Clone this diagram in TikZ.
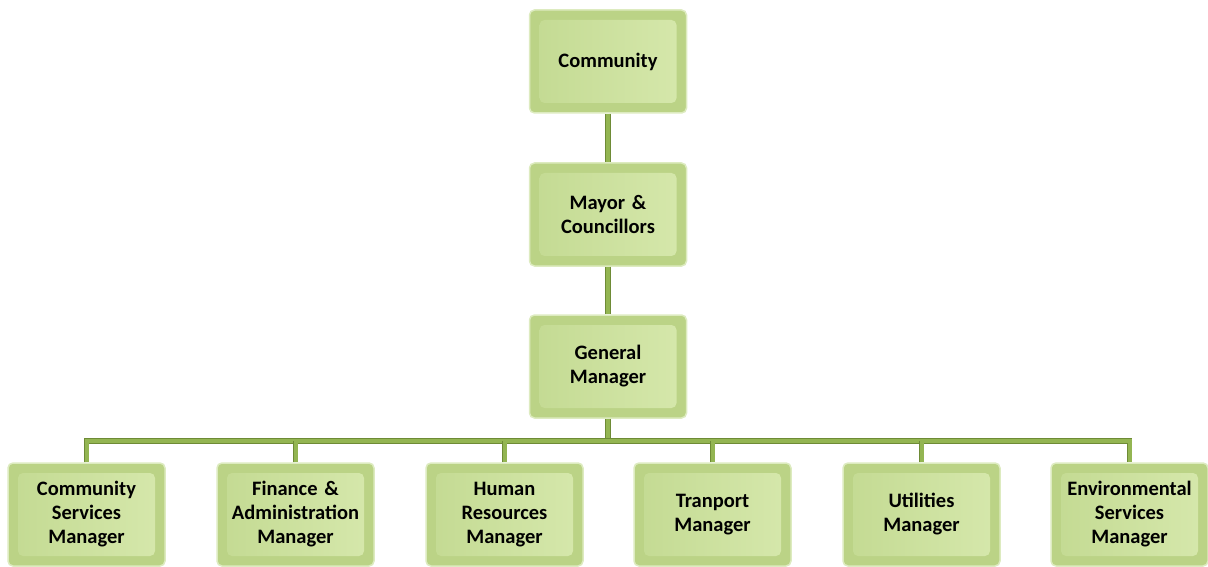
\documentclass[tikz,border=0pt]{standalone}
\usepackage{fontspec}
\setmainfont{Carlito}
\usepackage{tikz}
\usetikzlibrary{calc}

\definecolor{boxedge}{HTML}{BBD386}
\definecolor{boxlight}{HTML}{D6E8AC}
\definecolor{boxmid}{HTML}{C3DA92}
\definecolor{boxrim}{HTML}{DDEBC0}
\definecolor{linedark}{HTML}{6E8B36}
\definecolor{linegreen}{HTML}{93B552}

\tikzset{
    orgbox/.style={rectangle, rounded corners=5pt, minimum width=157pt, minimum height=103pt,
        draw=boxrim, line width=1.5pt, fill=boxedge, align=center, text width=145pt,
        font=\fontsize{20.5}{24}\selectfont\bfseries,
        path picture={
            \fill[left color=boxmid, right color=boxlight]
                ($(path picture bounding box.south west)+(10pt,10pt)$) rectangle
                ($(path picture bounding box.north east)+(-10pt,-10pt)$);
        }},
    orgline/.style={draw=linedark, line width=0.8pt, double=linegreen, double distance=4pt}
}

\begin{document}
\begin{tikzpicture}[x=1pt, y=1pt]
        \useasboundingbox (0,0) rectangle (1208,566);

        % top of the chart
        \node[orgbox] (comm) at (608,504.5) {Community};
        \node[orgbox] (mayor) at (608,351.5) {Mayor \&\\Councillors};
        \node[orgbox] (gm) at (608,199.5) {General\\Manager};

        % managers
        \node[orgbox] (csm) at (86.5,51.5) {Community\\Services\\Manager};
        \node[orgbox] (fam) at (295.5,51.5) {Finance \&\\Administration\\Manager};
        \node[orgbox] (hrm) at (504.5,51.5) {Human\\Resources\\Manager};
        \node[orgbox] (tpm) at (712.5,51.5) {Tranport\\Manager};
        \node[orgbox] (utm) at (921.5,51.5) {Utilities\\Manager};
        \node[orgbox] (esm) at (1129.5,51.5) {Environmental\\Services\\Manager};

        \coordinate (bus) at ($(gm.south)+(0,-22)$);

        \draw[orgline] (comm.south) -- (mayor.north);
        \draw[orgline] (mayor.south) -- (gm.north);
        \draw[orgline] (gm.south) -- (bus);
        \draw[orgline] (csm.north) |- (bus) -| (esm.north);
        \foreach \m in {fam, hrm, tpm, utm}
            \draw[orgline] (\m.north) -- (\m.north |- bus);

\end{tikzpicture}
\end{document}
